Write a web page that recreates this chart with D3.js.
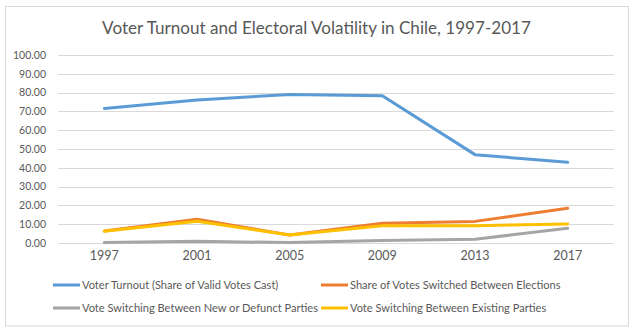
<!DOCTYPE html>
<html><head><meta charset="utf-8">
<script src="https://cdn.jsdelivr.net/npm/d3@7"></script>
<style>body{margin:0;background:#fff}svg{display:block}</style>
</head><body>
<script>
const years = ["1997","2001","2005","2009","2013","2017"];
const turnout = [71.6, 76.1, 79.0, 78.3, 47.0, 42.9];
const shareSwitched = [6.4, 12.6, 4.3, 10.5, 11.5, 18.5];
const newDefunct = [0.2, 0.9, 0.2, 1.3, 2.0, 7.8];
const existing = [6.3, 11.6, 4.2, 9.2, 9.2, 10.1];
const yTicks = [0,10,20,30,40,50,60,70,80,90,100];
const seriesNames = ["Voter Turnout (Share of Valid Votes Cast)","Share of Votes Switched Between Elections","Vote Switching Between New or Defunct Parties","Vote Switching Between Existing Parties"];
const colors = ["#5b9bd5","#ed7d31","#a5a5a5","#ffc000"];
const title = "Voter Turnout and Electoral Volatility in Chile, 1997-2017";

const W=637,H=331, FONT="Lato, 'Open Sans', sans-serif", TXT="#595959";
const svg=d3.select("body").append("svg").attr("width",W).attr("height",H);
svg.append("rect").attr("x",5.5).attr("y",6.5).attr("width",623).attr("height",319.5).attr("fill","#fff").attr("stroke","#d9d9d9");

function fitSize(sel,target){const n=sel.node();const w=n.getComputedTextLength();const fs=parseFloat(sel.attr("font-size"));return fs*target/w;}

const t=svg.append("text").attr("x",316.5).attr("y",34).attr("text-anchor","middle").attr("font-family",FONT).attr("font-size",18).attr("fill",TXT).text(title);
t.attr("font-size",fitSize(t,429));

const x=d3.scaleBand().domain(years).range([58,614]);
const y=d3.scaleLinear().domain([0,100]).range([243,55]);

svg.append("g").selectAll("line").data(yTicks).join("line")
 .attr("x1",58).attr("x2",614).attr("y1",d=>Math.round(y(d))+0.5).attr("y2",d=>Math.round(y(d))+0.5)
 .attr("stroke","#d9d9d9").attr("stroke-width",1);

const ya=svg.append("g").attr("transform","translate(58,0)").call(d3.axisLeft(y).tickValues(yTicks).tickFormat(d3.format(".2f")).tickSize(0).tickPadding(12));
ya.select(".domain").remove();
ya.selectAll("text").attr("font-family",FONT).attr("font-size",12).attr("fill",TXT);
const topLabel=ya.selectAll("text").filter(d=>d===100);
const yfs=fitSize(topLabel,33);
ya.selectAll("text").attr("font-size",yfs);

const xa=svg.append("g").attr("transform","translate(0,243)").call(d3.axisBottom(x).tickSize(0).tickPadding(8));
xa.select(".domain").remove();
xa.selectAll("text").attr("font-family",FONT).attr("font-size",12.5).attr("fill",TXT);

const data=[turnout,shareSwitched,newDefunct,existing];
const line=d3.line().x((d,i)=>x(years[i])+x.bandwidth()/2).y(d=>y(d));
data.forEach((s,k)=>{
 svg.append("path").datum(s).attr("d",line).attr("fill","none").attr("stroke",colors[k]).attr("stroke-width",3).attr("stroke-linejoin","round").attr("stroke-linecap","round");
});

const legPos=[[53,285],[321,285],[53,308],[321,308]];
const legW=[201,210,235,194];
const texts=[];
seriesNames.forEach((n,k)=>{
 const [lx,ly]=legPos[k];
 svg.append("line").attr("x1",lx).attr("x2",lx+27).attr("y1",ly).attr("y2",ly).attr("stroke",colors[k]).attr("stroke-width",3);
 texts.push(svg.append("text").attr("x",lx+29).attr("y",ly+4).attr("font-family",FONT).attr("font-size",12).attr("fill",TXT).text(n));
});
const lfs=d3.mean(texts.map((s,k)=>fitSize(s,legW[k])));
texts.forEach(s=>s.attr("font-size",lfs));
</script>
</body></html>
